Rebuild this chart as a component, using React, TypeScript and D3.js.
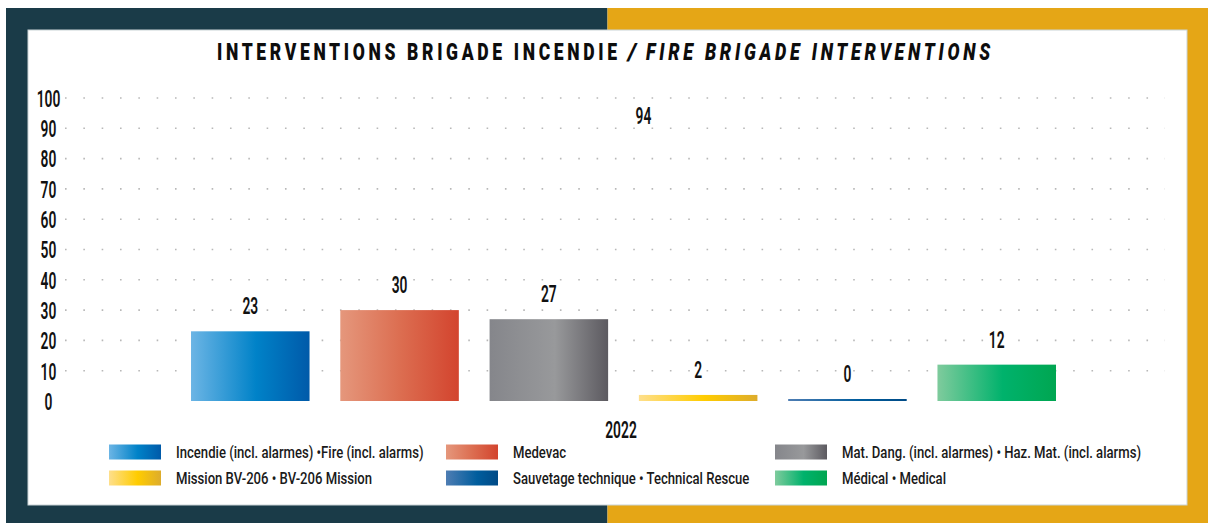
import React, { useLayoutEffect, useRef, useState } from "react";
import * as d3 from "d3";

const categories = ["2022"];
const seriesNames = [
  "Incendie (incl. alarmes) •Fire (incl. alarms)",
  "Medevac",
  "Mat. Dang. (incl. alarmes) • Haz. Mat. (incl. alarms)",
  "Mission BV-206 • BV-206 Mission",
  "Sauvetage technique • Technical Rescue",
  "Médical • Medical",
];
const seriesValues = [23, 30, 27, 2, 0, 12];
const yTicks = [0, 10, 20, 30, 40, 50, 60, 70, 80, 90, 100];
const titleParts = ["INTERVENTIONS BRIGADE INCENDIE", "/", "FIRE BRIGADE INTERVENTIONS"];

const gradientStops: [number, string][][] = [
  [[0, "#6CB5E5"], [0.55, "#0082C8"], [1, "#005AA9"]],
  [[0, "#E5977C"], [0.5, "#DC6E51"], [1, "#D3442E"]],
  [[0, "#85868B"], [0.55, "#98999B"], [1, "#5C5A60"]],
  [[0, "#FEDF8C"], [0.55, "#FFCC00"], [1, "#DDAC2C"]],
  [[0, "#4E7DB3"], [0.6, "#005D9D"], [1, "#004A86"]],
  [[0, "#7FCB9D"], [0.55, "#00B26C"], [1, "#00A651"]],
];

const W = 1208;
const H = 523;
const FONT = "Roboto, 'Noto Sans', 'DejaVu Sans', sans-serif";

function SText(props: {
  x: number; y: number; sx?: number; size: number; weight?: any; anchor?: string; fill?: string; children: any;
}) {
  const { x, y, sx = 0.6, size, weight = 600, anchor = "middle", fill = "#111", children } = props;
  return (
    <g transform={`translate(${x},${y}) scale(${sx},1)`}>
      <text
        textAnchor={anchor as any}
        dominantBaseline="central"
        fontFamily={FONT}
        fontSize={size}
        fontWeight={weight}
        fill={fill}
      >
        {children}
      </text>
    </g>
  );
}

// target placement of title parts: [x start, visible width, italic, letterSpacing]
const titleLayout: [number, number, boolean, number][] = [
  [217, 400, false, 5],
  [628, 8, true, 0],
  [646, 344, true, 5],
];

function Title() {
  const refs = useRef<(SVGTextElement | null)[]>([]);
  const [scales, setScales] = useState<number[]>([0.7, 0.7, 0.7]);
  useLayoutEffect(() => {
    const next = titleLayout.map(([, w, , ls], i) => {
      const el = refs.current[i];
      if (!el) return 0.7;
      const len = el.getComputedTextLength() - ls;
      return len > 0 ? w / len : 0.7;
    });
    setScales(next);
  }, []);
  return (
    <g>
      {titleParts.map((t, i) => {
        const [x, , italic, ls] = titleLayout[i];
        return (
          <g key={i} transform={`translate(${x},60) scale(${scales[i]},1)`}>
            <text
              ref={(el) => {
                refs.current[i] = el;
              }}
              fontFamily={FONT}
              fontSize={24}
              fontWeight={900}
              fontStyle={italic ? "italic" : "normal"}
              letterSpacing={ls}
              fill="#0d0d0d"
            >
              {t}
            </text>
          </g>
        );
      })}
    </g>
  );
}

export default function App() {
  const y = d3.scaleLinear().domain([0, 100]).range([401, 98]);
  const x0 = d3.scaleBand().domain(categories).range([191, 1056]).paddingInner(0).paddingOuter(0);
  const x1 = d3
    .scaleBand()
    .domain(seriesNames)
    .range([0, x0.bandwidth()])
    .paddingInner(0.206)
    .paddingOuter(0);

  const gridX0 = 65;
  const gridX1 = 1165;
  const total = d3.sum(seriesValues);

  const legendColX = [109, 446, 775];
  const legendRowY = [452, 478];

  return (
    <div style={{ position: "fixed", left: 0, top: 0, width: W, height: H }}>
      <svg width={W} height={H} viewBox={`0 0 ${W} ${H}`} style={{ display: "block" }}>
        <defs>
          {gradientStops.map((stops, i) => (
            <linearGradient key={i} id={`grad${i}`} x1="0" y1="0" x2="1" y2="0">
              {stops.map(([o, c], j) => (
                <stop key={j} offset={o} stopColor={c} />
              ))}
            </linearGradient>
          ))}
        </defs>
        <rect x={0} y={0} width={W} height={H} fill="#ffffff" />
        <rect x={6} y={8} width={601.5} height={H - 8} fill="#1A3B48" />
        <rect x={607.5} y={8} width={W - 607.5} height={H - 8} fill="#E5A616" />
        <rect x={28} y={30} width={1159} height={475} fill="#ffffff" stroke="#c9d3d6" strokeWidth={1} />

        <Title />

        {/* Grid */}
        {yTicks
          .filter((t) => t > 0)
          .map((t) => (
            <line
              key={t}
              x1={gridX0}
              x2={gridX1}
              y1={y(t)}
              y2={y(t)}
              stroke="#b8b8b8"
              strokeWidth={1.6}
              strokeDasharray="1.6 16.73"
            />
          ))}

        {/* Y tick labels */}
        {yTicks.map((t) => (
          <SText key={t} x={48.5} y={y(t) + 1} size={23}>
            {t}
          </SText>
        ))}

        {/* Bars */}
        {categories.map((c) => (
          <g key={c} transform={`translate(${x0(c)},0)`}>
            {seriesNames.map((s, i) => {
              const v = seriesValues[i];
              const top = Math.min(y(v), y(0) - 2);
              const bx = x1(s) as number;
              return (
                <g key={s}>
                  <rect x={bx} y={top} width={x1.bandwidth()} height={y(0) - top} fill={`url(#grad${i})`} />
                  <SText x={bx + x1.bandwidth() / 2} y={top - 25} size={23}>
                    {v}
                  </SText>
                </g>
              );
            })}
          </g>
        ))}

        {/* Total label */}
        <SText x={643.5} y={y(total)} size={23}>
          {total}
        </SText>

        {/* Category label */}
        {categories.map((c) => (
          <SText key={c} x={621} y={430} size={23}>
            {c}
          </SText>
        ))}

        {/* Legend */}
        {seriesNames.map((s, i) => {
          const cx = legendColX[i % 3];
          const cy = legendRowY[Math.floor(i / 3)];
          return (
            <g key={s}>
              <rect x={cx} y={cy - 7.5} width={52} height={15} fill={`url(#grad${i})`} />
              <SText x={cx + 67} y={cy} size={16.5} sx={0.795} anchor="start" weight={500} fill="#1a1a1a">
                {s}
              </SText>
            </g>
          );
        })}
      </svg>
    </div>
  );
}
